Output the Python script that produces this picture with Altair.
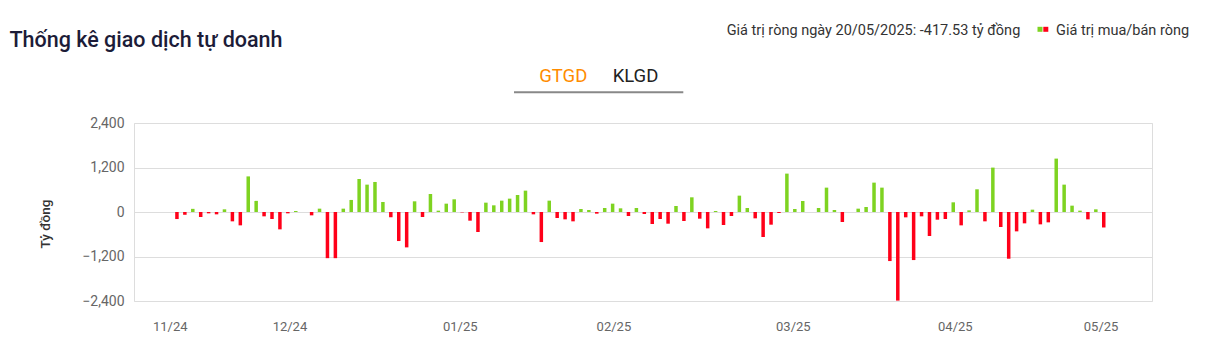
import json
import altair as alt
import pandas as pd

# Net proprietary trading value per session (billion VND), 118 sessions up to 20/05/2025
values = [
    -190, -75, 85, -135, -36, -63, 72, -252, -360, 960, 300, -117, -189, -468, -36, 27, 0, -90, 90, -1245, -1245, 90,
    325, 890, 738, 810, 270, -144, -783, -954, 288, -135, 486, 36, 225, 342, -10, -234, -540, 252, 180, 306, 360, 459, 576, -63, -810, 306,
    -162, -198, -252, 81, 54, -45, 108, 225, 99, -108, 108, -54, -324, -189, -315, 162, -243, 396, -180, -441, 27, -351, -108, 441, 108,
    -171, -675, -342, -27, 1035, 81, 297, 0, 108, 657, 54, -270, 0, 90, 135, 792, 657, -1323, -2390, -144, -1296, -117, -648, -207, -189, 261,
    -360, 45, 612, -252, 1197, -405, -1260, -522, -306, 63, -333, -279, 1440, 738, 171, 36, -198, 72, -417.53,
]
x_tick_pos = [-0.91, 14.2, 35.7, 55.1, 77.75, 98.2, 116.6]
x_tick_labels = ["11/24", "12/24", "01/25", "02/25", "03/25", "04/25", "05/25"]
y_ticks = [-2400, -1200, 0, 1200, 2400]

TITLE = "Thống kê giao dịch tự doanh"
NET_TEXT = "Giá trị ròng ngày 20/05/2025: -417.53 tỷ đồng"
LEGEND_TEXT = "Giá trị mua/bán ròng"
TABS = ["GTGD", "KLGD"]
Y_TITLE = "Tỷ đồng"

GREEN = "#7ED321"
RED = "#FF0019"

df = pd.DataFrame({"idx": list(range(len(values))), "value": values})

label_expr = f"{json.dumps(x_tick_labels)}[indexof({json.dumps(x_tick_pos)}, datum.value)]"

bars = alt.Chart(df).mark_bar(size=3.5).encode(
    x=alt.X(
        "idx:Q",
        scale=alt.Scale(domain=[-4.79, 122.46], nice=False, zero=False),
        axis=alt.Axis(values=x_tick_pos, labelExpr=label_expr, title=None, grid=False,
                      ticks=False, tickSize=0, domain=False, labelPadding=19,
                      labelFontSize=13, labelColor="#666666", labelFlush=False),
    ),
    y=alt.Y(
        "value:Q",
        scale=alt.Scale(domain=[-2400, 2400], nice=False),
        axis=alt.Axis(values=y_ticks, format=",.0f", title=None, grid=True, gridColor="#dddddd",
                      ticks=False, tickSize=0, domain=False, labelPadding=10,
                      labelFontSize=14, labelColor="#666666"),
    ),
    color=alt.when(alt.datum.value >= 0).then(alt.value(GREEN)).otherwise(alt.value(RED)),
)


def text_layer(txt, x, y, **kw):
    return alt.Chart(alt.Data(values=[{}])).mark_text(text=txt, **kw).encode(
        x=alt.value(x), y=alt.value(y)
    )


title_t = text_layer(TITLE, -124.5, -76.3, align="left", baseline="alphabetic",
                     fontSize=21.5, fontWeight=500, color="#1c1c38")
net_t = text_layer(NET_TEXT, 592.7, -88, align="left", baseline="alphabetic",
                   fontSize=14.5, color="#333333")
leg_t = text_layer(LEGEND_TEXT, 922, -88, align="left", baseline="alphabetic",
                   fontSize=14.5, color="#333333")
ytitle_t = text_layer(Y_TITLE, -88.5, 101, align="center", baseline="middle", angle=270,
                      fontSize=13.5, fontWeight=500, color="#333333")
tab1 = text_layer(TABS[0], 429.3, -40.7, align="center", baseline="alphabetic",
                  fontSize=18.5, color="#FF8C00")
tab2 = text_layer(TABS[1], 501.5, -40.7, align="center", baseline="alphabetic",
                  fontSize=18.5, color="#222222")
underline = alt.Chart(alt.Data(values=[{}])).mark_rule(color="#888888", strokeWidth=2).encode(
    x=alt.value(380), x2=alt.value(549.3), y=alt.value(-30.7)
)
sq_green = alt.Chart(alt.Data(values=[{}])).mark_square(size=25, color=GREEN, opacity=1).encode(
    x=alt.value(906), y=alt.value(-93.7)
)
sq_red = alt.Chart(alt.Data(values=[{}])).mark_square(size=25, color=RED, opacity=1).encode(
    x=alt.value(911.8), y=alt.value(-93.7)
)

chart = alt.layer(
    bars, title_t, net_t, leg_t, ytitle_t, tab1, tab2, underline, sq_green, sq_red
).properties(
    width=1018,
    height=178,
    autosize=alt.AutoSizeParams(type="none"),
    padding={"left": 126, "top": 115, "right": 40, "bottom": 40},
).configure(font="Roboto").configure_view(stroke="#dddddd")

chart.save("out.html", embed_options={"renderer": "svg", "actions": False})
